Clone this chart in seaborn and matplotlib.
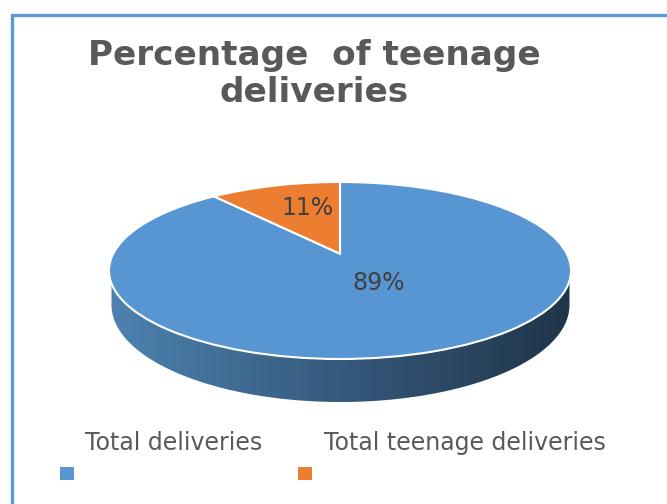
import numpy as np
import seaborn as sns
import matplotlib.pyplot as plt
from matplotlib.path import Path
from matplotlib.patches import PathPatch, Rectangle
from matplotlib.transforms import Affine2D

labels = ['Total deliveries', 'Total teenage deliveries']
values = [89, 11]
title = 'Percentage  of teenage\ndeliveries'

BLUE = '#5896d3'
ORANGE = '#ed7d31'
TEXT = '#595959'

sns.set_theme(style='white')
plt.rcParams['font.family'] = ['DejaVu Sans']

fig = plt.figure(figsize=(6.67, 5.04), dpi=100)
ax = fig.add_axes([0, 0, 1, 1])

wedges, _, autotexts = ax.pie(
    values, colors=[BLUE, ORANGE], startangle=90, counterclock=False,
    autopct='%d%%', wedgeprops={'edgecolor': 'white', 'linewidth': 1.5},
    textprops={'color': '#404040', 'fontsize': 17},
)
ax.set_aspect('auto')
ax.axis('off')

# tilted look: move the pie centre up inside the same ellipse
tilt = 0.19
to_px = Affine2D().scale(231, -88.5).translate(340, 270.5) + ax.transData
for w in wedges:
    p = w.get_path()
    x, y = p.vertices[:, 0], p.vertices[:, 1]
    d = 1 + tilt * y
    w._path = Path(np.column_stack([x * np.sqrt(1 - tilt ** 2) / d, (y + tilt) / d]), p.codes)
    w.set_transform(to_px)
    w.set_zorder(3)

autotexts[0].set_position((379, 283))
autotexts[1].set_position((307, 208))
for t in autotexts:
    t.set_zorder(4)

# side wall of the disc with a left to right shade
cmap = sns.blend_palette(['#4d82b0', '#36597c', '#1f3549'], as_cmap=True)
theta = np.linspace(0, np.pi, 120)
wall_x = 340.5 + 229 * np.cos(theta)
wall_y = 305 + 97 * np.sin(theta)
wall = np.column_stack([
    np.r_[wall_x[0], wall_x, wall_x[-1], wall_x[-1]],
    np.r_[270, wall_y, 270, 270],
])
clip = PathPatch(Path(wall, closed=True), transform=ax.transData, fc='none', ec='none')
ax.add_patch(clip)
im = ax.imshow(np.linspace(0, 1, 256)[None, :], cmap=cmap, aspect='auto',
               extent=(111, 570, 403, 270), zorder=1)
im.set_clip_path(clip)

ax.set_xlim(0, 667)
ax.set_ylim(504, 0)

ax.text(314, 74, title, ha='center', va='center', fontsize=24.7, fontweight='bold',
        color=TEXT, linespacing=1.17)

legend_x = [173.5, 465]
swatch_x = [60, 298]
for lab, lx, sx, col in zip(labels, legend_x, swatch_x, [BLUE, ORANGE]):
    ax.text(lx, 443, lab, ha='center', va='center', fontsize=17, color=TEXT)
    ax.add_patch(Rectangle((sx, 467), 14, 13, fc=col, ec='none'))

# chart frame, cut by the right and bottom edges of the picture
ax.plot([12, 12, 667], [504, 14.5, 14.5], color='#5b9bd5', lw=2.4, solid_joinstyle='miter')

fig.savefig('out.png', dpi=100)
